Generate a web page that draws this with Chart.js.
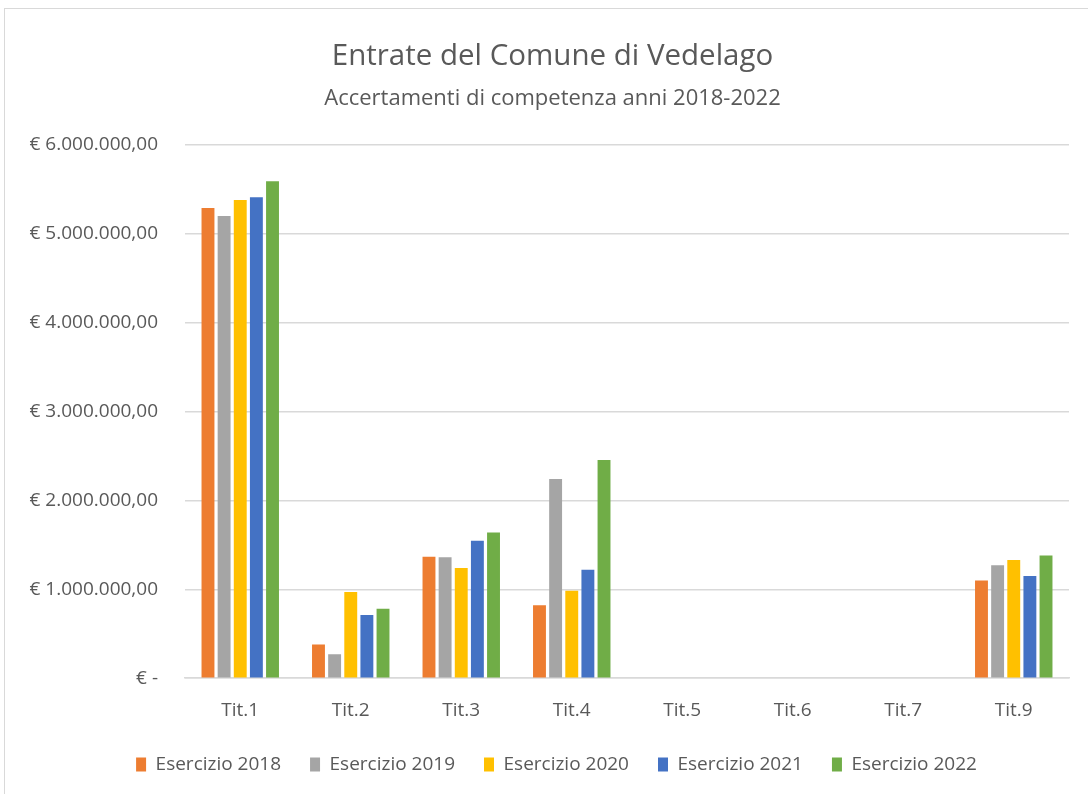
<!DOCTYPE html>
<html>
<head>
<meta charset="utf-8">
<script src="https://cdn.jsdelivr.net/npm/chart.js@4"></script>
<style>
  html, body { margin: 0; padding: 0; background: #fff; }
  #wrap { position: relative; width: 1088px; height: 794px; overflow: hidden; }
  #frame { position: absolute; left: 4px; top: 8px; width: 1200px; height: 900px; border: 1px solid #d9d9d9; }
  #box { position: absolute; left: 0; top: 0; width: 1088px; height: 794px; }
</style>
</head>
<body>
<div id="wrap">
  <div id="frame"></div>
  <div id="box"><canvas id="chart"></canvas></div>
</div>
<script>
// dati
var categories = ['Tit.1', 'Tit.2', 'Tit.3', 'Tit.4', 'Tit.5', 'Tit.6', 'Tit.7', 'Tit.9'];
var seriesNames = ['Esercizio 2018', 'Esercizio 2019', 'Esercizio 2020', 'Esercizio 2021', 'Esercizio 2022'];
var values2018 = [5290000, 380000, 1365000, 820000, 0, 0, 0, 1100000];
var values2019 = [5200000, 270000, 1360000, 2240000, 0, 0, 0, 1270000];
var values2020 = [5380000, 970000, 1240000, 985000, 0, 0, 0, 1330000];
var values2021 = [5410000, 710000, 1545000, 1220000, 0, 0, 0, 1150000];
var values2022 = [5590000, 780000, 1640000, 2455000, 0, 0, 0, 1380000];
var colors = ['#ED7D31', '#A5A5A5', '#FFC000', '#4472C4', '#70AD47'];

var allValues = [values2018, values2019, values2020, values2021, values2022];
var FONT = "'Open Sans', 'Noto Sans', sans-serif";
var TEXT = '#595959';
var GRID = '#d9d9d9';

Chart.defaults.font.family = FONT;
Chart.defaults.color = TEXT;

function euro(v) {
  if (v === 0) return '€ -';
  var s = Math.round(v).toString().replace(/\B(?=(\d{3})+(?!\d))/g, '.');
  return '€ ' + s + ',00';
}

// titolo e legenda in Excel sono centrati sull'area del grafico, non sul canvas
var shiftBlocks = {
  id: 'shiftBlocks',
  afterLayout: function(chart) {
    chart.boxes.forEach(function(b) {
      if (b === chart.legend) {
        b.left += 44;
        b.top -= 17;
        b.bottom -= 17;
      } else if (b.options && b.options.text) {
        b.left += 18;
        b.right += 18;
      }
    });
  }
};

new Chart(document.getElementById('chart'), {
  type: 'bar',
  data: {
    labels: categories,
    datasets: seriesNames.map(function(name, i) {
      return {
        label: name,
        data: allValues[i],
        backgroundColor: colors[i],
        borderWidth: 0,
        barPercentage: 0.8,
        categoryPercentage: 0.73
      };
    })
  },
  options: {
    responsive: true,
    maintainAspectRatio: false,
    animation: false,
    layout: { padding: { left: 0, right: 19, top: 0, bottom: -7 } },
    plugins: {
      title: {
        display: true,
        text: 'Entrate del Comune di Vedelago',
        color: TEXT,
        font: { family: FONT, size: 29.5, weight: 'normal' },
        padding: { top: 39, bottom: 0 }
      },
      subtitle: {
        display: true,
        text: 'Accertamenti di competenza anni 2018-2022',
        color: TEXT,
        font: { family: FONT, size: 22, weight: 'normal' },
        padding: { top: 11, bottom: 33 }
      },
      legend: {
        position: 'bottom',
        labels: {
          color: TEXT,
          font: { family: FONT, size: 19 },
          boxWidth: 10,
          boxHeight: 14,
          padding: 29
        }
      },
      tooltip: { enabled: false }
    },
    scales: {
      x: {
        grid: { display: false, drawTicks: false },
        border: { display: true, color: GRID, width: 1.5 },
        ticks: { color: TEXT, font: { family: FONT, size: 19 }, padding: 21 }
      },
      y: {
        min: 0,
        max: 6000000,
        afterFit: function(scale) { scale.width = 185; },
        grid: { color: GRID, lineWidth: 1.5, drawTicks: false },
        border: { display: false },
        ticks: {
          stepSize: 1000000,
          color: TEXT,
          font: { family: FONT, size: 19 },
          padding: 27,
          callback: function(v) { return euro(v); }
        }
      }
    }
  },
  plugins: [shiftBlocks]
});
</script>
</body>
</html>
